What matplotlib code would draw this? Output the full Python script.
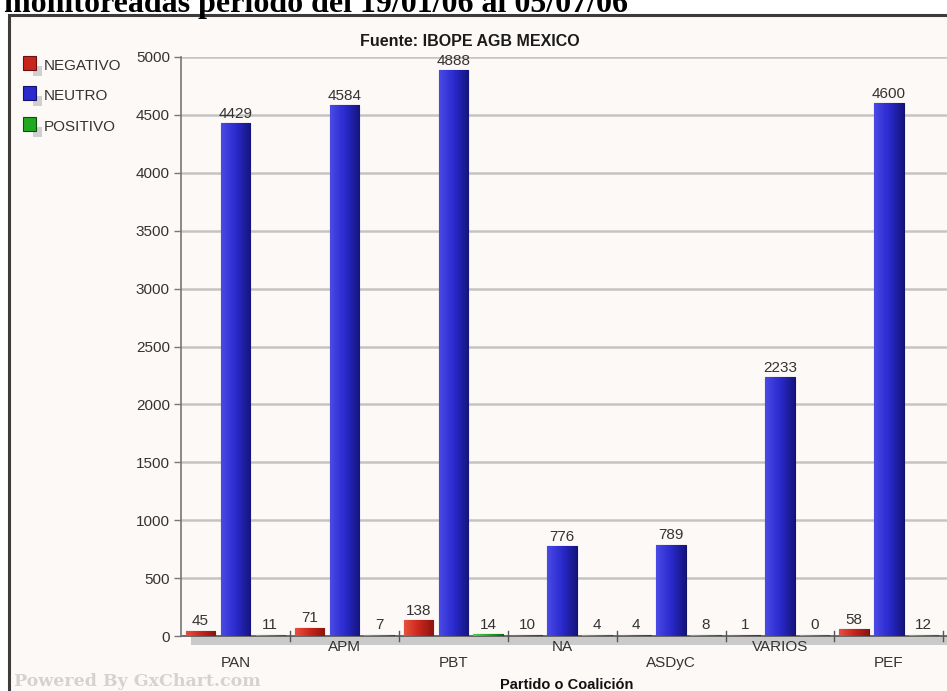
import numpy as np
import matplotlib
matplotlib.use("Agg")
import matplotlib.pyplot as plt
from matplotlib.patches import Rectangle, Polygon
from matplotlib.colors import LinearSegmentedColormap

# Data
categories = ["PAN", "APM", "PBT", "NA", "ASDyC", "VARIOS", "PEF"]
negativo = [45, 71, 138, 10, 4, 1, 58]
neutro = [4429, 4584, 4888, 776, 789, 2233, 4600]
positivo = [11, 7, 14, 4, 8, 0, 12]
series_names = ["NEGATIVO", "NEUTRO", "POSITIVO"]
y_ticks = [0, 500, 1000, 1500, 2000, 2500, 3000, 3500, 4000, 4500, 5000]

W, H = 947, 691
fig = plt.figure(figsize=(W / 100, H / 100), dpi=100)
fig.patch.set_facecolor("white")

def fx(px):
    return px / W

def fy(py):
    return 1 - py / H

LABEL_FONT = "Liberation Sans Narrow"
from matplotlib import font_manager
try:
    font_manager.findfont(LABEL_FONT, fallback_to_default=False)
except Exception:
    LABEL_FONT = "Liberation Sans"

# Chart panel with dark frame
panel = Rectangle((fx(9), -0.01), 1.0, fy(15) + 0.01, transform=fig.transFigure,
                  facecolor="#fdf9f7", edgecolor="#3c3c3c", linewidth=2.2,
                  zorder=-5)
fig.patches.append(panel)

# Document heading (partially cut at the top)
fig.text(fx(4), fy(12), "monitoreadas período del 19/01/06 al 05/07/06",
         fontfamily="Liberation Serif", fontweight="bold", fontsize=23,
         color="black", va="baseline", ha="left")

group_px = 108.9
x0_px, x1_px = 181, 947
ax = fig.add_axes([fx(x0_px), fy(636), fx(x1_px - x0_px), (636 - 57) / H])
ax.set_zorder(1)
ax.set_xlim(0, (x1_px - x0_px) / group_px)
ax.set_ylim(0, 5000)
ax.patch.set_alpha(0)
for s in ax.spines.values():
    s.set_visible(False)

# Gridlines
for t in y_ticks[1:]:
    ax.axhline(t, color="#c4c4c4", linewidth=1.8, zorder=1)

# 3D floor under the baseline
floor = Polygon([(0.09, 0), (len(categories) + 0.05, 0),
                 (len(categories) + 0.05, -80), (0.09, -80)],
                closed=True, facecolor="#cacaca", edgecolor="none",
                clip_on=False, zorder=1)
ax.add_patch(floor)
ax.plot([0, len(categories) + 0.05], [0, 0], color="#555555", lw=1.2,
        zorder=2, clip_on=False)
# y axis line
ax.plot([0, 0], [0, 5000], color="#777777", lw=1.2, zorder=2, clip_on=False)

# group boundary ticks
for g in range(1, len(categories) + 1):
    ax.plot([g, g], [-45, 45], color="#555555", lw=1.0, clip_on=False, zorder=3)

ax.set_yticks(y_ticks)
ax.set_yticklabels([str(t) for t in y_ticks], fontfamily=LABEL_FONT,
                   fontsize=11, color="#333333")
ax.tick_params(axis="y", length=5, width=1, color="#777777", pad=3)
ax.set_xticks([])

cmaps = {
    "NEGATIVO": LinearSegmentedColormap.from_list("r", ["#e8503e", "#c8261c", "#8a1510"]),
    "NEUTRO": LinearSegmentedColormap.from_list("b", ["#4a4ae6", "#2a2ace", "#15157e"]),
    "POSITIVO": LinearSegmentedColormap.from_list("g", ["#4fd14f", "#21a921", "#0f6e12"]),
}
edge = {"NEGATIVO": "#6a1010", "NEUTRO": "#12126a", "POSITIVO": "#0c500c"}

offsets = [-0.32, 0.0, 0.32]
bar_w = 0.27
grad = np.linspace(0, 1, 64).reshape(1, -1)
for si, (name, vals) in enumerate(zip(series_names, [negativo, neutro, positivo])):
    for gi, v in enumerate(vals):
        xc = gi + 0.5 + offsets[si]
        h = max(v, 12)
        bar = ax.bar(xc, h, width=bar_w, color=cmaps[name](0.5),
                     edgecolor=edge[name], linewidth=0.8, zorder=3)[0]
        im = ax.imshow(grad, aspect="auto", cmap=cmaps[name],
                       extent=(xc - bar_w / 2, xc + bar_w / 2, 0, h),
                       zorder=3.5, interpolation="bilinear")
        im.set_clip_path(bar)
        ax.text(xc, h + 20, str(v), ha="center", va="bottom",
                fontfamily=LABEL_FONT, fontsize=11, color="#333333",
                zorder=5)

ax.set_xlim(0, (x1_px - x0_px) / group_px)
ax.set_ylim(0, 5000)

# Category labels on alternating rows
for gi, c in enumerate(categories):
    ypx = 663 if gi % 2 == 0 else 647
    fig.text(fx(x0_px + (gi + 0.5) * group_px), fy(ypx), c,
             ha="center", va="center", fontfamily=LABEL_FONT,
             fontsize=11, color="#333333")

fig.text(fx(567), fy(685), "Partido o Coalición", ha="center", va="center",
         fontfamily=LABEL_FONT, fontweight="bold", fontsize=10.5,
         color="#111111")
fig.text(fx(470), fy(42), "Fuente: IBOPE AGB MEXICO", ha="center",
         va="center", fontfamily="Liberation Sans", fontweight="bold",
         fontsize=11.5, color="#1a1a1a")
fig.text(fx(14), fy(681), "Powered By GxChart.com", ha="left", va="center",
         fontfamily="DejaVu Serif", fontweight="bold", fontsize=12.5,
         color="#d6d2d2")

# Legend
leg_cols = {"NEGATIVO": "#c8261c", "NEUTRO": "#2a2ace", "POSITIVO": "#21a921"}
for i, (name, ypx) in enumerate(zip(series_names, [63, 93, 124])):
    fig.patches.append(Rectangle((fx(33), fy(ypx + 13)), fx(9), 10 / H,
                                 transform=fig.transFigure,
                                 facecolor="#cfcfcf", edgecolor="none", zorder=2))
    fig.patches.append(Rectangle((fx(23), fy(ypx + 7)), fx(13), 14 / H,
                                 transform=fig.transFigure,
                                 facecolor=leg_cols[name], edgecolor=edge[name],
                                 linewidth=0.8, zorder=3))
    fig.text(fx(44), fy(ypx + 3), name, ha="left", va="center",
             fontfamily=LABEL_FONT, fontsize=11, color="#333333")

fig.savefig("out.png", dpi=100)
